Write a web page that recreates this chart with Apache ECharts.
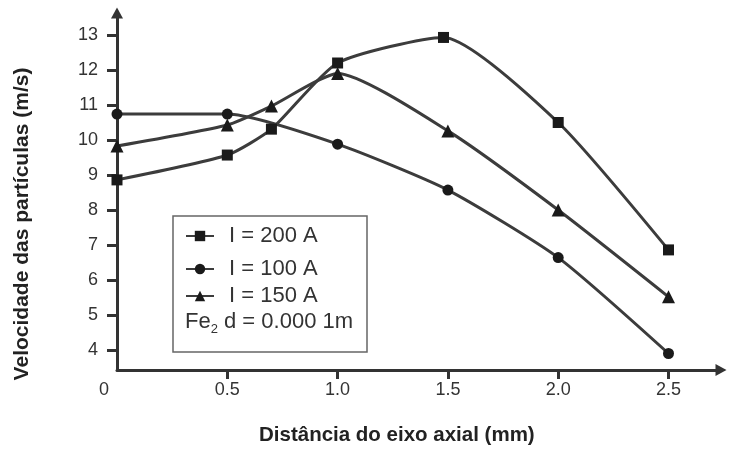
<!DOCTYPE html>
<html><head><meta charset="utf-8">
<script src="https://cdn.jsdelivr.net/npm/echarts@6/dist/echarts.min.js"></script>
<style>html,body{margin:0;padding:0;background:#fff}#c{width:731px;height:457px}</style>
</head><body><div id="c"></div>
<script>
const xTicks = [0.5, 1.0, 1.5, 2.0, 2.5];
const xLabels = [0, 0.5, 1.0, 1.5, 2.0, 2.5];
const yTicks = [4, 5, 6, 7, 8, 9, 10, 11, 12, 13];
const names = ['I = 200 A', 'I = 100 A', 'I = 150 A'];
const symbols = ['rect', 'circle', 'triangle'];
const s200 = [[0, 8.86], [0.5, 9.57], [0.7, 10.31], [1.0, 12.2], [1.48, 12.93], [2.0, 10.5], [2.5, 6.86]];
const s100 = [[0, 10.74], [0.5, 10.74], [1.0, 9.88], [1.5, 8.57], [2.0, 6.64], [2.5, 3.9]];
const s150 = [[0, 9.83], [0.5, 10.43], [0.7, 10.97], [1.0, 11.9], [1.5, 10.26], [2.0, 8.0], [2.5, 5.52]];
const seriesData = [s200, s100, s150];

const FONT = "'Liberation Sans', Arial, sans-serif";
const lineColor = '#3c3c3c';
const legendTops = [225, 258, 285];
const PX_X = 220.6, PX_Y = 35;
const gridW = 604, gridH = 357;
const yMin = 4 - 20 / PX_Y;
const chart = echarts.init(document.getElementById('c'));
chart.setOption({
  animation: false,
  backgroundColor: '#fff',
  grid: { left: 117, top: 13, width: gridW, height: gridH },
  xAxis: {
    type: 'value', min: 0, max: gridW / PX_X,
    axisLine: { lineStyle: { color: '#333', width: 3 }, symbol: ['none', 'triangle'], symbolSize: [12, 11], symbolOffset: [0, 0] },
    axisTick: { show: true, length: 9, inside: false, lineStyle: { color: '#333', width: 3 }, customValues: xTicks },
    axisLabel: {
      customValues: xLabels, margin: 11, fontSize: 18, color: '#333', fontFamily: FONT,
      formatter: v => v === 0 ? '{z|0}' : v.toFixed(1),
      rich: { z: { fontSize: 18, color: '#333', fontFamily: FONT, padding: [0, 26, 0, 0] } }
    },
    splitLine: { show: false }
  },
  yAxis: {
    type: 'value', min: yMin, max: yMin + gridH / PX_Y,
    axisLine: { show: true, lineStyle: { color: '#333', width: 3 }, symbol: ['none', 'triangle'], symbolSize: [12, 11], symbolOffset: [0, 0] },
    axisTick: { show: true, length: 10, lineStyle: { color: '#333', width: 3 }, customValues: yTicks },
    axisLabel: { customValues: yTicks, margin: 19, fontSize: 18, color: '#333', fontFamily: FONT, formatter: v => String(Math.round(v)) },
    splitLine: { show: false }
  },
  legend: names.map((n, i) => ({
    data: [n], orient: 'vertical', left: 185, top: legendTops[i],
    itemWidth: 28, itemHeight: 13, padding: 0,
    textStyle: { fontSize: 22, color: '#333', fontFamily: FONT, padding: [0, 0, 0, 10] },
    selectedMode: false
  })),
  series: names.map((n, i) => ({
    name: n, type: 'line', data: seriesData[i], smooth: 0.2,
    symbol: symbols[i], symbolSize: i === 2 ? 13 : 11,
    showSymbol: true,
    lineStyle: { color: lineColor, width: 3 },
    itemStyle: { color: '#1a1a1a' },
    z: 3
  })),
  graphic: [
    { type: 'rect', z: 1, shape: { x: 173, y: 216, width: 194, height: 136 }, style: { fill: '#fff', stroke: '#666', lineWidth: 1.5 } },
    { type: 'text', z: 5, left: 185, top: 311, style: {
      text: '{a|Fe}{s|2}{a| d = 0.000 1m}',
      rich: { a: { fontSize: 22, fill: '#333', fontFamily: FONT }, s: { fontSize: 13, fill: '#333', fontFamily: FONT, padding: [14, 0, 0, 0] } }
    } },
    { type: 'text', left: 259, top: 425, style: { text: 'Distância do eixo axial (mm)', fontSize: 20.5, fontWeight: 'bold', fill: '#222', fontFamily: FONT } },
    { type: 'text', x: 22, y: 224, rotation: Math.PI / 2, style: { text: 'Velocidade das partículas (m/s)', fontSize: 21, fontWeight: 'bold', fill: '#222', fontFamily: FONT, align: 'center', verticalAlign: 'middle' } }
  ]
});
</script></body></html>
